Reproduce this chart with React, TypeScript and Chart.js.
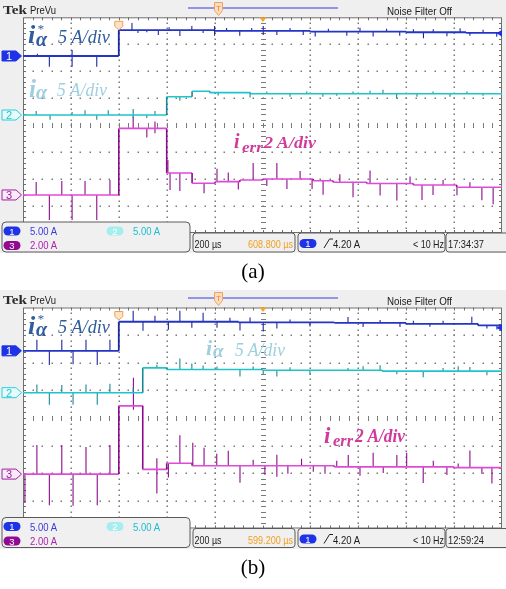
import React, { useEffect, useRef } from "react";
import { Chart, registerables } from "chart.js";

Chart.register(...registerables);

type Pair = [number, number];

// ---------------- scope settings ----------------
const timePerDivUs = 200;
const timeDivisions = 10;
const ampsPerDiv = [5, 5, 2]; // CH1, CH2, CH3
const triggerLevelA = 4.2;
const triggerTimeUs = 400;
const channelScaleTexts = ["5.00 A", "5.00 A", "2.00 A"];

// ---------------- panel (a) data: [time µs, amps] ----------------
const ch1LevelsA: Pair[] = [[0, 0], [400, 4.8], [800, 4.65], [1200, 4.5], [1600, 4.4], [1850, 4.3]];
const ch1SpikesA: Pair[] = [
  [60, 0.4], [110, -2.0], [205, 1.1], [205, -2.0], [308, -2.0],
  [455, 1.3], [480, -0.55], [517, -0.4], [565, -0.9], [610, 0.55], [655, -1.1], [705, 0.75],
  [752, -0.55], [800, 0.9], [800, -0.9], [850, 0.55], [905, -0.9], [955, 0.55], [1003, 0.9],
  [1003, -0.75], [1060, -0.75], [1115, 0.55], [1170, -0.75], [1220, -0.9], [1275, 0.55],
  [1352, -0.75], [1407, 0.75], [1462, -0.9], [1518, 0.55], [1573, -0.75], [1630, 0.55],
  [1672, -1.1], [1713, 0.55], [1770, -0.75], [1825, 0.75], [1866, -0.55], [1921, 0.55], [1978, -0.75],
];
const ch2LevelsA: Pair[] = [[0, 0], [600, 3.4], [706, 4.4], [780, 4.15], [950, 3.95]];
const ch2SpikesA: Pair[] = [
  [55, 0.75], [113, -0.9], [205, 0.55], [259, 0.9], [308, -0.9], [356, 0.9], [460, 1.1],
  [460, -0.55], [517, -0.55], [551, 0.75],
  [655, -0.75], [815, -0.55], [948, -0.9], [1018, 0.4], [1115, -0.55], [1185, 0.4],
  [1252, -0.55], [1310, -0.4], [1378, 0.4], [1449, 0.55], [1503, 0.75], [1560, -0.9],
  [1645, -0.55], [1712, 0.4], [1783, -0.55], [1854, 0.4], [1921, -0.4],
];
const ch3LevelsA: Pair[] = [
  [0, 0], [400, 4.94], [600, 1.63], [706, 0.87], [802, 0.99], [906, 1.11], [1003, 1.19],
  [1212, 1.06], [1295, 0.94], [1435, 0.85], [1630, 0.74], [1811, 0.57],
];
const ch3SpikesA: Pair[] = [
  [55, 0.96], [110, -1.85], [162, 1.04], [205, -1.85], [259, 1.04], [308, -1.85], [363, 1.11],
  [460, 0.89], [517, -0.67], [551, 0.52], [551, -0.37],
  [605, 0.96], [614, -1.26], [655, -1.33],
  [756, -0.74], [810, 0.96], [857, 0.67], [899, -0.59], [961, 1.26], [1018, -0.52], [1060, 1.19],
  [1102, -0.74], [1157, 0.59], [1207, -0.74], [1253, -1.04], [1323, 0.59], [1378, -1.11],
  [1449, 0.96], [1491, -0.89], [1561, -1.26], [1616, 0.52], [1666, -1.11], [1712, -0.74],
  [1754, 0.37], [1812, -0.59], [1866, 0.37], [1916, -0.96], [1963, -1.26],
];

// ---------------- panel (b) data ----------------
const ch1LevelsB: Pair[] = [[0, 0], [400, 5.27], [900, 5.15], [1300, 5.05], [1600, 4.9], [1900, 4.6]];
const ch1SpikesB: Pair[] = [
  [58, 2.0], [110, -2.55], [162, 2.0], [209, -2.4], [263, 2.0], [310, -2.55], [363, 2.0],
  [460, 2.0], [501, -1.63], [551, 1.1], [607, -1.45], [655, 2.0], [705, -1.1], [752, 1.63],
  [810, -1.1], [864, 0.73], [906, -1.45], [948, 0.9], [1003, -1.63], [1060, -1.1], [1115, 0.55],
  [1198, -0.73], [1357, 1.1], [1420, -0.73], [1491, 0.55], [1574, -0.73], [1630, 0.55],
  [1699, -0.55], [1754, 0.55], [1874, 1.27], [1937, -0.55], [1979, -0.73],
];
const ch2LevelsB: Pair[] = [[0, 0], [500, 4.5], [600, 4.2], [1000, 4.05], [1500, 3.9]];
const ch2SpikesB: Pair[] = [
  [58, 1.5], [110, -2.2], [162, 1.4], [209, -2.2], [263, 1.5], [310, -2.2], [363, 1.6], [460, 0.9],
  [559, 0.55], [655, 2.0], [705, 1.1], [752, 0.73], [810, 0.55], [906, -1.27], [961, 0.55],
  [1003, -0.73], [1060, -1.1], [1115, 0.55], [1198, -0.73], [1357, 0.4], [1420, 0.73],
  [1491, 0.9], [1561, -0.55], [1671, -1.1], [1754, 0.55], [1817, 0.9], [1866, 0.73], [1937, -0.73],
];
const ch3LevelsB: Pair[] = [[0, 0], [400, 4.94], [500, 0.34], [600, 0.78], [706, 0.6], [1300, 0.52], [1800, 0.47]];
const ch3SpikesB: Pair[] = [
  [8, -2.1], [58, 2.1], [110, -2.25], [162, 2.1], [209, -2.3], [263, 1.96], [310, -2.25], [363, 2.1],
  [461, 2.03], [461, -0.29], [559, -1.74], [559, 0.8], [607, -1.02], [655, 2.03],
  [709, 1.67], [756, 1.31], [809, 0.87], [857, 1.09], [906, -1.23], [961, 0.44], [1010, -0.65],
  [1060, 0.8], [1060, -0.8], [1106, -0.58], [1163, 0.51], [1212, -0.44], [1261, -0.58],
  [1310, 0.44], [1358, 0.87], [1407, -0.65], [1462, 1.02], [1504, -0.44], [1561, 0.87],
  [1602, 1.02], [1671, -1.16], [1713, 0.44], [1770, -0.58], [1817, 0.29], [1866, 1.23],
  [1916, -0.44], [1958, -1.16],
];

// ---------------- helpers ----------------
const timeMaxUs = timePerDivUs * timeDivisions;

function levelAt(levels: Pair[], t: number) {
  let v = levels[0][1];
  for (const [tt, vv] of levels) if (tt <= t) v = vv;
  return v;
}
function levelPoints(levels: Pair[]) {
  const pts: { x: number; y: number | null }[] = [];
  levels.forEach(([t, v], i) => {
    if (i > 0) pts.push({ x: t, y: levels[i - 1][1] });
    pts.push({ x: t, y: v });
  });
  pts.push({ x: timeMaxUs, y: levels[levels.length - 1][1] });
  return pts;
}
function spikePoints(levels: Pair[], spikes: Pair[]) {
  const pts: { x: number; y: number | null }[] = [];
  for (const [t, d] of spikes) {
    const b = levelAt(levels, t);
    pts.push({ x: t, y: b }, { x: t, y: b + d }, { x: t, y: null });
  }
  return pts;
}

const chColors = [
  { line: "#2334c6", dark: "#1a279e" },
  { line: "#1fc4ca", dark: "#168a94" },
  { line: "#e04ad8", dark: "#8c0a8c" },
];

const graticule = {
  id: "graticule",
  beforeDraw(chart: any) {
    const { ctx, chartArea: a, width, height } = chart;
    ctx.save();
    ctx.fillStyle = "#efefef";
    ctx.fillRect(0, 0, width, height);
    ctx.fillStyle = "#ffffff";
    ctx.fillRect(a.left, a.top, a.right - a.left, a.bottom - a.top);
    const xs = chart.scales.x;
    const ys = chart.scales.yDiv;
    ctx.fillStyle = "#7a7a7a";
    for (let i = 1; i < timeDivisions; i++) {
      if (i === 5) continue;
      const x = Math.round(xs.getPixelForValue(i * timePerDivUs));
      for (let k = 1; k < 40; k++) {
        const y = Math.round(ys.getPixelForValue(-4 + k / 5));
        ctx.fillRect(x - 0.5, y - 0.5, 1.5, 1.5);
      }
    }
    for (let j = 1; j < 8; j++) {
      if (j === 4) continue;
      const y = Math.round(ys.getPixelForValue(j - 4));
      for (let k = 1; k < 50; k++) {
        const x = Math.round(xs.getPixelForValue((k * timePerDivUs) / 5));
        ctx.fillRect(x - 0.5, y - 0.5, 1.5, 1.5);
      }
    }
    // centre crosshair ticks
    const xc = Math.round(xs.getPixelForValue(5 * timePerDivUs));
    const yc = Math.round(ys.getPixelForValue(0));
    for (let k = 1; k < 40; k++) {
      const y = Math.round(ys.getPixelForValue(-4 + k / 5));
      ctx.fillRect(xc - 2, y, 5, 1);
    }
    for (let k = 1; k < 50; k++) {
      const x = Math.round(xs.getPixelForValue((k * timePerDivUs) / 5));
      ctx.fillRect(x, yc - 2, 1, 5);
    }
    // border with ticks
    ctx.strokeStyle = "#6e6e6e";
    ctx.lineWidth = 1;
    ctx.strokeRect(a.left + 0.5, a.top + 0.5, a.right - a.left - 1, a.bottom - a.top - 1);
    ctx.fillStyle = "#6e6e6e";
    for (let k = 1; k < 50; k++) {
      const x = Math.round(xs.getPixelForValue((k * timePerDivUs) / 5));
      ctx.fillRect(x, a.top, 1, 3);
      ctx.fillRect(x, a.bottom - 3, 1, 3);
    }
    for (let k = 1; k < 40; k++) {
      const y = Math.round(ys.getPixelForValue(-4 + k / 5));
      ctx.fillRect(a.left, y, 3, 1);
      ctx.fillRect(a.right - 3, y, 3, 1);
    }
    ctx.restore();
  },
};

type PanelProps = {
  pageTop: number;
  plotTop: number;
  plotBottom: number;
  offsets: number[];
  levels: Pair[][];
  spikes: Pair[][];
  delayText: string;
  clockText: string;
  labels: React.ReactNode;
};

const narrow = "'Liberation Sans Narrow','Liberation Sans',Arial,sans-serif";

function Panel(p: PanelProps) {
  const ref = useRef<HTMLCanvasElement | null>(null);
  const H = Math.ceil(p.plotBottom + 20);
  const left = 23;
  const right = 502;
  const div = (p.plotBottom - p.plotTop) / 8;

  useEffect(() => {
    if (!ref.current) return;
    const datasets: any[] = [];
    for (let c = 0; c < 3; c++) {
      const col = chColors[c];
      datasets.push({
        data: levelPoints(p.levels[c]),
        yAxisID: "y" + (c + 1),
        borderColor: col.line,
        borderWidth: c === 0 ? 1.8 : 1.6,
        pointRadius: 0,
        fill: false,
        tension: 0,
        segment: {
          borderColor: (ctx: any) => (ctx.p0.parsed.x === ctx.p1.parsed.x ? col.dark : undefined),
        },
      });
      datasets.push({
        data: spikePoints(p.levels[c], p.spikes[c]),
        yAxisID: "y" + (c + 1),
        borderColor: col.dark,
        borderWidth: 1.1,
        pointRadius: 0,
        fill: false,
        spanGaps: false,
      });
    }
    const scales: any = {
      x: { type: "linear", min: 0, max: timeMaxUs, display: false },
      yDiv: { type: "linear", min: -4, max: 4, display: false },
    };
    for (let c = 0; c < 3; c++) {
      scales["y" + (c + 1)] = {
        type: "linear",
        display: false,
        min: (-4 - p.offsets[c]) * ampsPerDiv[c],
        max: (4 - p.offsets[c]) * ampsPerDiv[c],
      };
    }
    const chart = new Chart(ref.current, {
      type: "line",
      data: { datasets },
      options: {
        animation: false,
        responsive: false,
        maintainAspectRatio: false,
        events: [],
        layout: { padding: { left, right: 506 - right, top: p.plotTop, bottom: H - p.plotBottom } },
        plugins: { legend: { display: false }, tooltip: { enabled: false } },
        scales,
      },
      plugins: [graticule],
    });
    return () => chart.destroy();
  }, []);

  const gy = (c: number) => p.plotTop + (4 - p.offsets[c]) * div;
  const xTrig = left + (triggerTimeUs / timePerDivUs) * ((right - left) / timeDivisions);
  const yTrigLevel = gy(0) - (triggerLevelA / ampsPerDiv[0]) * div;
  const B = p.plotBottom;

  const marker = (c: number, fill: string, stroke: string, txt: string) => {
    const y = gy(c);
    return (
      <g key={c}>
        <path d={`M2 ${y - 5} H16 L21.5 ${y} L16 ${y + 5} H2 Z`} fill={fill} stroke={stroke} strokeWidth={1} />
        <text x={9} y={y + 4} fontSize={11} textAnchor="middle" fill={txt} fontFamily={narrow}>
          {c + 1}
        </text>
      </g>
    );
  };
  const pill = (x: number, cy: number, fill: string, n: string) => (
    <g>
      <rect x={x} y={cy - 4.5} width={17} height={9} rx={4.5} fill={fill} />
      <text x={x + 8.5} y={cy + 3.5} fontSize={9.5} textAnchor="middle" fill="#ffffff" fontFamily={narrow}>
        {n}
      </text>
    </g>
  );

  return (
    <div style={{ position: "absolute", left: 0, top: p.pageTop, width: 506, height: H }}>
      <canvas ref={ref} width={506} height={H} style={{ position: "absolute", left: 0, top: 0, width: 506, height: H }} />
      <svg width={506} height={H} style={{ position: "absolute", left: 0, top: 0 }} fontFamily={narrow}>
        {/* header */}
        <text x={3} y={14} fontFamily="'Liberation Serif',serif" fontWeight="bold" fontSize={13.5} fill="#2a2a2a" textLength={24} lengthAdjust="spacingAndGlyphs">
          Tek
        </text>
        <text x={30} y={14} fontSize={10.5} fill="#202020" textLength={26} lengthAdjust="spacingAndGlyphs">
          PreVu
        </text>
        <line x1={188} y1={8} x2={338} y2={8} stroke="#7474e6" strokeWidth={1.6} />
        <path d="M214.5 2.5 h8 v8 l-4 5 l-4 -5 z" fill="#fbdcc0" stroke="#f0a060" strokeWidth={1} />
        <text x={218.5} y={10.5} fontSize={8} textAnchor="middle" fill="#e08a30">T</text>
        <path d="M259.5 17.5 h7 l-3.5 4.5 z" fill="#f5a623" />
        <text x={387} y={14.5} fontSize={11} fill="#202020" textLength={65} lengthAdjust="spacingAndGlyphs">
          Noise Filter Off
        </text>
        {/* trigger time marker */}
        <path d={`M${xTrig - 4} ${p.plotTop + 4} h8 v5 l-4 3.5 l-4 -3.5 z`} fill="#fde3c8" stroke="#f0a050" strokeWidth={1} />
        {/* trigger level marker */}
        <path d={`M502 ${yTrigLevel - 3.5} L496.5 ${yTrigLevel} L502 ${yTrigLevel + 3.5} Z`} fill="#2030e0" />
        {/* channel markers */}
        {marker(0, "#1f33e6", "#1f33e6", "#ffffff")}
        {marker(1, "#e6fbfb", "#25d0dc", "#25c4d2")}
        {marker(2, "#f8eaf8", "#a0209e", "#a0209e")}
        {/* status bar */}
        <rect x={2} y={B - 11} width={188} height={30} rx={4} fill="#f0f0f0" stroke="#5a5a5a" strokeWidth={1} />
        {pill(3.5, B - 2, "#1f33e6", "1")}
        <text x={30} y={B + 2} fontSize={11} fill="#3a3ad8" textLength={27} lengthAdjust="spacingAndGlyphs">{channelScaleTexts[0]}</text>
        {pill(106.5, B - 2, "#a6eeee", "2")}
        <text x={133} y={B + 2} fontSize={11} fill="#1cc0d2" textLength={27} lengthAdjust="spacingAndGlyphs">{channelScaleTexts[1]}</text>
        {pill(3.5, B + 12.5, "#920a92", "3")}
        <text x={30} y={B + 16} fontSize={11} fill="#b020b0" textLength={27} lengthAdjust="spacingAndGlyphs">{channelScaleTexts[2]}</text>

        <rect x={193} y={B} width={102} height={19} rx={3} fill="#f0f0f0" stroke="#5a5a5a" strokeWidth={1} />
        <text x={194.5} y={B + 15} fontSize={11} fill="#202020" textLength={27} lengthAdjust="spacingAndGlyphs">200 µs</text>
        <text x={248} y={B + 15} fontSize={11} fill="#f0a020" textLength={45} lengthAdjust="spacingAndGlyphs">{p.delayText}</text>

        <rect x={298} y={B} width={147} height={19} rx={3} fill="#f0f0f0" stroke="#5a5a5a" strokeWidth={1} />
        {pill(299.5, B + 10.5, "#1f33e6", "1")}
        <path d={`M324 ${B + 15} L329.5 ${B + 6} L333 ${B + 6}`} stroke="#202020" strokeWidth={1} fill="none" />
        <text x={333} y={B + 15} fontSize={11} fill="#202020" textLength={27} lengthAdjust="spacingAndGlyphs">4.20 A</text>
        <text x={413} y={B + 15} fontSize={11} fill="#202020" textLength={31} lengthAdjust="spacingAndGlyphs">&lt; 10 Hz</text>

        <rect x={446} y={B} width={64} height={19} rx={3} fill="#f0f0f0" stroke="#5a5a5a" strokeWidth={1} />
        <text x={448} y={B + 15} fontSize={11} fill="#202020" textLength={36} lengthAdjust="spacingAndGlyphs">{p.clockText}</text>

        {p.labels}
      </svg>
    </div>
  );
}

const serif = "'Liberation Serif','Times New Roman',serif";

const labelsA = (
  <g fontFamily={serif} fontStyle="italic">
    <g fill="#2e5c9e">
      <text x={28} y={43} fontSize={26} fontWeight="bold">i</text>
      <text x={36} y={46} fontSize={20} fontWeight="bold">α</text>
      <text x={37} y={33} fontSize={13}>*</text>
      <text x={58} y={43} fontSize={18.5} textLength={52} lengthAdjust="spacingAndGlyphs">5 A/div</text>
    </g>
    <g fill="#9dcfe0">
      <text x={29} y={97} fontSize={25} fontWeight="bold">i</text>
      <text x={36} y={99} fontSize={20} fontWeight="bold">α</text>
      <text x={57} y={96} fontSize={18.5} textLength={50} lengthAdjust="spacingAndGlyphs">5 A/div</text>
    </g>
    <g fill="#d03a9c" fontWeight="bold">
      <text x={234} y={148} fontSize={20}>i</text>
      <text x={242} y={152} fontSize={15} textLength={21} lengthAdjust="spacingAndGlyphs">err</text>
      <text x={264} y={147.5} fontSize={17} textLength={52} lengthAdjust="spacingAndGlyphs">2 A/div</text>
    </g>
  </g>
);

const labelsB = (
  <g fontFamily={serif} fontStyle="italic">
    <g fill="#2e5c9e">
      <text x={28} y={44} fontSize={26} fontWeight="bold">i</text>
      <text x={36} y={46} fontSize={20} fontWeight="bold">α</text>
      <text x={37} y={33} fontSize={13}>*</text>
      <text x={58} y={43} fontSize={18.5} textLength={52} lengthAdjust="spacingAndGlyphs">5 A/div</text>
    </g>
    <g fill="#9dcfe0">
      <text x={206} y={65} fontSize={22} fontWeight="bold">i</text>
      <text x={213} y={67} fontSize={19} fontWeight="bold">α</text>
      <text x={235} y={66} fontSize={18} textLength={50} lengthAdjust="spacingAndGlyphs">5 A/div</text>
    </g>
    <g fill="#d03a9c" fontWeight="bold">
      <text x={324} y={153} fontSize={23}>i</text>
      <text x={333} y={156} fontSize={16} textLength={20} lengthAdjust="spacingAndGlyphs">err</text>
      <text x={355} y={152} fontSize={18} textLength={50} lengthAdjust="spacingAndGlyphs">2 A/div</text>
    </g>
  </g>
);

export default function App() {
  useEffect(() => {
    document.body.style.margin = "0";
  }, []);
  return (
    <div style={{ position: "absolute", left: 0, top: 0, width: 506, height: 589, background: "#ffffff" }}>
      <Panel
        pageTop={0}
        plotTop={17.3}
        plotBottom={233}
        offsets={[2.565, 0.376, -2.59]}
        levels={[ch1LevelsA, ch2LevelsA, ch3LevelsA]}
        spikes={[ch1SpikesA, ch2SpikesA, ch3SpikesA]}
        delayText="608.800 µs"
        clockText="17:34:37"
        labels={labelsA}
      />
      <div style={{ position: "absolute", left: 0, top: 258, width: 506, textAlign: "center", fontFamily: serif, fontSize: 21, lineHeight: "26px" }}>
        (a)
      </div>
      <Panel
        pageTop={290}
        plotTop={17.5}
        plotBottom={238.5}
        offsets={[2.43, 0.916, -2.03]}
        levels={[ch1LevelsB, ch2LevelsB, ch3LevelsB]}
        spikes={[ch1SpikesB, ch2SpikesB, ch3SpikesB]}
        delayText="599.200 µs"
        clockText="12:59:24"
        labels={labelsB}
      />
      <div style={{ position: "absolute", left: 0, top: 554, width: 506, textAlign: "center", fontFamily: serif, fontSize: 21, lineHeight: "26px" }}>
        (b)
      </div>
    </div>
  );
}
